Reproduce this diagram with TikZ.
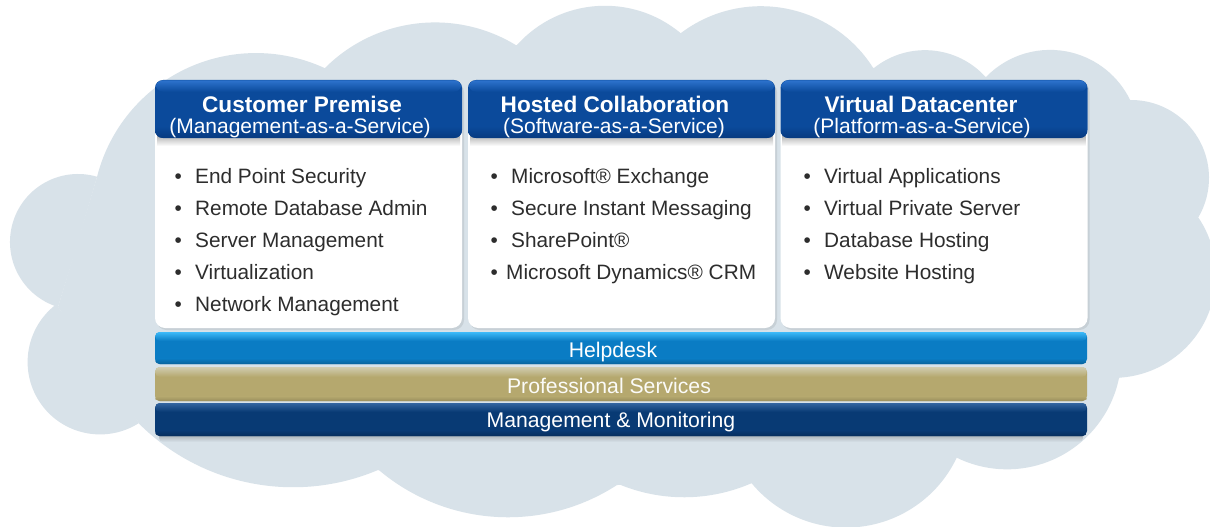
\documentclass[tikz,border=0pt]{standalone}
\usepackage{fontspec}
\setmainfont{Liberation Sans}
\usetikzlibrary{calc}
\definecolor{cloudc}{RGB}{216,226,233}
\definecolor{hdmain}{RGB}{11,74,155}
\definecolor{hdhi}{RGB}{45,115,205}
\definecolor{hdlow}{RGB}{7,58,128}
\definecolor{hpmain}{RGB}{10,124,196}
\definecolor{hphi}{RGB}{60,185,248}
\definecolor{psmain}{RGB}{181,168,110}
\definecolor{pshi}{RGB}{208,204,176}
\definecolor{mmmain}{RGB}{8,58,116}
\definecolor{mmhi}{RGB}{50,100,160}
\definecolor{txtc}{RGB}{45,45,45}
\newcommand\fItem{\fontsize{20.8}{25}\selectfont}
\newcommand\fHead{\fontsize{22.6}{27}\selectfont\bfseries}
\newcommand\fSub{\fontsize{21}{25}\selectfont}
\newcommand\fBar{\fontsize{21.2}{25}\selectfont}
\newcommand\bul[1]{\makebox[#1][l]{•}}
\begin{document}
\begin{tikzpicture}[x=1pt,y=-1pt,
  colbody/.style={fill=white, rounded corners=10pt, minimum width=307pt, minimum height=248pt, inner sep=0pt},
  colhead/.style={fill=hdmain, rounded corners=8pt, minimum width=307pt, minimum height=58pt, inner sep=0pt},
  barbox/.style={rounded corners=5pt, minimum width=932pt, inner sep=0pt},
  htitle/.style={text=white, font=\fHead, inner sep=0pt, anchor=base},
  hsub/.style={text=white, font=\fSub, inner sep=0pt, anchor=base},
  item/.style={text=txtc, font=\fItem, inner sep=0pt, anchor=base west},
  bartxt/.style={text=white, font=\fBar, inner sep=0pt, anchor=base},
]
\useasboundingbox (0,0) rectangle (1210,527);
\fill[white] (0,0) rectangle (1210,527);

% cloud notches and bump centres
\coordinate (N1) at (97,177);   \coordinate (C1) at (256,217);
\coordinate (N2) at (325,68);   \coordinate (C2) at (435,178);
\coordinate (N3) at (517,45);   \coordinate (C3) at (605,124);
\coordinate (N4) at (681,33);   \coordinate (C4) at (761,139);
\coordinate (N5) at (874,68);   \coordinate (C5) at (925,132);
\coordinate (N6) at (986,77);   \coordinate (C6) at (1050,139);
\coordinate (N7) at (1130,100); \coordinate (C7) at (1131,178);
\coordinate (N8) at (1198,217); \coordinate (C8) at (1113,275);
\coordinate (N9) at (1119,378); \coordinate (C9) at (1007,355);
\coordinate (N10) at (957,457); \coordinate (C10) at (846,405);
\coordinate (N11) at (752,483); \coordinate (C11) at (684,328);
\coordinate (N12) at (617,485); \coordinate (C12) at (508,317);
\coordinate (N13) at (378,470); \coordinate (C13) at (293,269);
\coordinate (N14) at (139,423); \coordinate (C14) at (100,362);
\coordinate (N15) at (58,307);  \coordinate (C15) at (78,242);

\fill[cloudc] (N1) -- (N2) -- (N3) -- (N4) -- (N5) -- (N6) -- (N7) -- (N8) -- (N9)
  -- (N10) -- (N11) -- (N12) -- (N13) -- (N14) -- (N15) -- cycle;
\foreach \ua/\uc/\ub in {N1/C1/N2,N2/C2/N3,N3/C3/N4,N4/C4/N5,N5/C5/N6,N6/C6/N7,N7/C7/N8,
  N8/C8/N9,N9/C9/N10,N10/C10/N11,N11/C11/N12,N12/C12/N13,N13/C13/N14,N14/C14/N15,N15/C15/N1}{
  \fill[cloudc] (\uc) -- (\ua)
    let \p1=($(\ua)-(\uc)$), \p2=($(\ub)-(\uc)$),
        \n1={atan2(\y1,\x1)}, \n2={atan2(\y2,\x2)},
        \n3={veclen(\x1,\y1)}, \n4={mod(\n1-(\n2)+720,360)}
    in arc[start angle=\n1, delta angle=-\n4, radius=\n3] -- (\ub) -- cycle;
}

% column bodies
\foreach \cx/\nm in {308.5/b1,621.5/b2,934/b3}{
  \fill[black, opacity=0.08, rounded corners=10pt] (\cx-152,82) rectangle (\cx+155.5,330);
  \node[colbody] (\nm) at (\cx,204) {};
}
% header shadows
\foreach \cx in {308.5,621.5,934}{
  \shade[top color=black!40, bottom color=white] (\cx-151.5,132) rectangle (\cx+151.5,146);
}
% headers
\node[colhead] (h1) at (308.5,109) {};
\node[colhead] (h2) at (621.5,109) {};
\node[colhead] (h3) at (934,109) {};
\foreach \h in {h1,h2,h3}{
  \shade[top color=hdhi, bottom color=hdmain, rounded corners=7pt]
    ($(\h.north west)+(1,0.5)$) rectangle ($(\h.north east)+(-1,12)$);
  \shade[top color=hdmain, bottom color=hdlow, rounded corners=7pt]
    ($(\h.south west)+(0.5,-12)$) rectangle ($(\h.south east)+(-0.5,-0.3)$);
}
\node[htitle] (t1) at (302,112) {Customer Premise};
\node[hsub] (s1) at (300,133) {(Management-as-a-Service)};
\node[htitle] (t2) at (615,112) {Hosted Collaboration};
\node[hsub] (s2) at (614,133) {(Software-as-a-Service)};
\node[htitle] (t3) at (921,112) {Virtual Datacenter};
\node[hsub] (s3) at (922,133) {(Platform-as-a-Service)};

% items
\node[item] (i11) at (174.4,183) {\bul{20.6pt}End Point Security};
\node[item] (i12) at (174.4,215) {\bul{20.6pt}Remote Database Admin};
\node[item] (i13) at (174.4,247) {\bul{20.6pt}Server Management};
\node[item] (i14) at (174.4,279) {\bul{20.6pt}Virtualization};
\node[item] (i15) at (174.4,311) {\bul{20.6pt}Network Management};
\node[item] (i21) at (490.4,183) {\bul{20.6pt}Microsoft® Exchange};
\node[item] (i22) at (490.4,215) {\bul{20.6pt}Secure Instant Messaging};
\node[item] (i23) at (490.4,247) {\bul{20.6pt}SharePoint®};
\node[item] (i24) at (490.4,279) {\bul{15.6pt}Microsoft Dynamics® CRM};
\node[item] (i31) at (803.4,183) {\bul{20.6pt}Virtual Applications};
\node[item] (i32) at (803.4,215) {\bul{20.6pt}Virtual Private Server};
\node[item] (i33) at (803.4,247) {\bul{20.6pt}Database Hosting};
\node[item] (i34) at (803.4,279) {\bul{20.6pt}Website Hosting};

% bars
\shade[top color=black!30!cloudc, bottom color=cloudc, rounded corners=4pt] (159,432) rectangle (1083,442);
\node[barbox, fill=hpmain, minimum height=32pt] (hp) at (621,348) {};
\node[barbox, fill=psmain, minimum height=34pt] (ps) at (621,384) {};
\node[barbox, fill=mmmain, minimum height=33pt] (mm) at (621,419.5) {};
\shade[top color=hphi, bottom color=hpmain, rounded corners=4pt]
  ($(hp.north west)+(0.5,0.3)$) rectangle ($(hp.north east)+(-0.5,9)$);
\shade[top color=hpmain, bottom color=hpmain!80!black, rounded corners=4pt]
  ($(hp.south west)+(0.5,-6)$) rectangle ($(hp.south east)+(-0.5,-0.2)$);
\shade[top color=pshi, bottom color=psmain, rounded corners=4pt]
  ($(ps.north west)+(0.5,0.3)$) rectangle ($(ps.north east)+(-0.5,10)$);
\shade[top color=psmain, bottom color=psmain!85!black, rounded corners=4pt]
  ($(ps.south west)+(0.5,-5)$) rectangle ($(ps.south east)+(-0.5,-0.2)$);
\shade[top color=mmhi, bottom color=mmmain, rounded corners=4pt]
  ($(mm.north west)+(0.5,0.3)$) rectangle ($(mm.north east)+(-0.5,9)$);
\shade[top color=mmmain, bottom color=mmmain!80!black, rounded corners=4pt]
  ($(mm.south west)+(0.5,-6)$) rectangle ($(mm.south east)+(-0.5,-0.2)$);
\node[bartxt] (hpt) at (613,357) {Helpdesk};
\node[bartxt, text=white!95!psmain] (pst) at (609,393) {Professional Services};
\node[bartxt] (mmt) at (611,427) {Management \& Monitoring};
\end{tikzpicture}
\end{document}
